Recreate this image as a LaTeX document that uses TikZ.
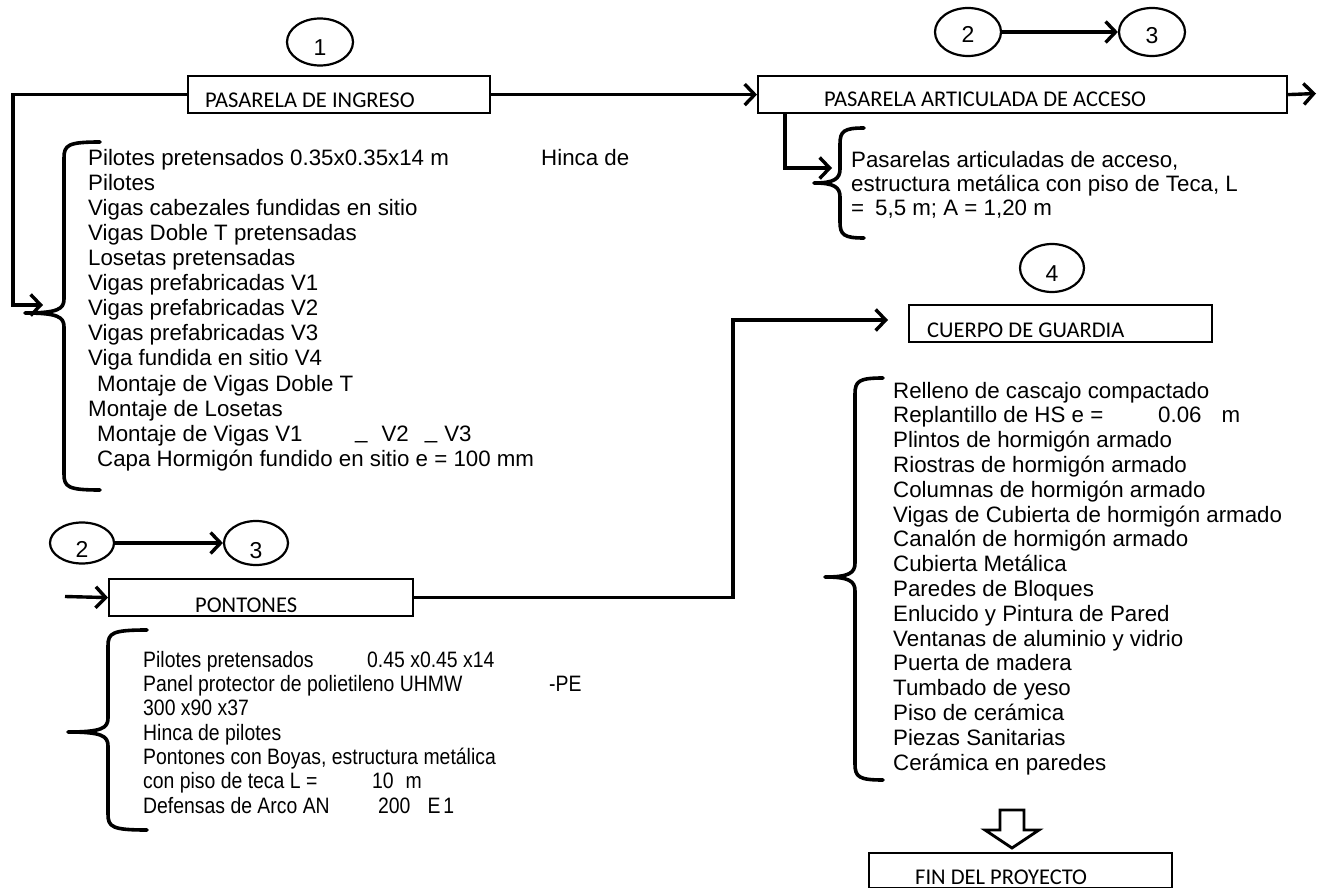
\documentclass[tikz,border=0pt]{standalone}
\usepackage{fontspec}
\setmainfont{Liberation Sans}
\newfontfamily\boxfont{Carlito}
\newfontfamily\narrowfont[FakeStretch=0.87]{Liberation Sans}
\usetikzlibrary{arrows.meta,shapes.geometric}
\newcommand\tightls{\lineskiplimit-30pt\relax}
\newcommand\fontA{\fontsize{22.3}{25.1}\selectfont\tightls}
\newcommand\fontB{\fontsize{22.3}{24}\selectfont\tightls}
\newcommand\fontC{\fontsize{22.3}{24.8}\selectfont\tightls}
\newcommand\fontD{\narrowfont\fontsize{22.3}{24.3}\selectfont\tightls}
\tikzset{
  conn/.style={line width=3.4pt},
  arr/.style={conn,-{Straight Barb[length=10pt,width=21pt]}},
  stepbox/.style={draw,line width=2.2pt,inner sep=0pt,anchor=north west},
  boxlbl/.style={inner sep=0pt,anchor=base west,font=\boxfont\fontsize{22.5}{27}\selectfont},
  num/.style={draw,ellipse,line width=2.2pt,inner sep=0pt,text depth=0pt,font=\fontsize{23}{23}\selectfont},
  lst/.style={inner sep=0pt,anchor=north west,align=left},
  bracel/.style={line width=3.6pt,line join=round,line cap=round},
  hollow/.style={line width=2.8pt,fill=white,line join=miter}
}
\newcommand\curlyb[6]{% #1 vertical x, #2 top, #3 tip y, #4 bottom, #5 tip x, #6 end x
  \draw[bracel] (#6,#2) .. controls ({#1+4},#2) and (#1,{#2+3}) .. (#1,{#2+16})
    -- (#1,{#3-14}) .. controls (#1,{#3-4}) and ({#1-6},#3) .. (#5,#3)
    .. controls ({#1-6},#3) and (#1,{#3+4}) .. (#1,{#3+14})
    -- (#1,{#4-16}) .. controls (#1,{#4-3}) and ({#1+4},#4) .. (#6,#4);}
\begin{document}
\begin{tikzpicture}[x=1pt,y=-1pt]
\useasboundingbox (0,0) rectangle (1318,888);
\fill[white] (0,0) rectangle (1318,888);

% numbered ellipses
\node[num,minimum width=66pt,minimum height=47pt,text height=26.6pt] (c1) at (320,42) {1};
\node[num,minimum width=66pt,minimum height=48pt,text height=20.6pt] (c2a) at (968,32) {2};
\node[num,minimum width=66pt,minimum height=48pt,text height=22.6pt] (c3a) at (1152,32) {3};
\node[num,minimum width=64pt,minimum height=48pt,text height=26.6pt] (c4) at (1052,268) {4};
\node[num,minimum width=64pt,minimum height=41pt,text height=28.6pt] (c2b) at (82,543) {2};
\node[num,minimum width=64pt,minimum height=44pt,text height=30.6pt] (c3b) at (256,543) {3};

% boxes
\node[stepbox,minimum width=302pt,minimum height=37pt] (b1) at (187,75) {};
\node[boxlbl] (b1t) at (205,108) {PASARELA DE INGRESO};
\node[stepbox,minimum width=529pt,minimum height=37pt] (b2) at (757,75) {};
\node[boxlbl] (b2t) at (824,107) {PASARELA ARTICULADA DE ACCESO};
\node[stepbox,minimum width=303pt,minimum height=37pt] (b3) at (908,304) {};
\node[boxlbl] (b3t) at (927,337) {CUERPO DE GUARDIA};
\node[stepbox,minimum width=304pt,minimum height=37pt] (b4) at (108,578) {};
\node[boxlbl] (b4t) at (195,612) {PONTONES};
\node[stepbox,minimum width=303pt,minimum height=35pt] (b5) at (868,852) {};
\node[boxlbl] (b5t) at (915,884.5) {FIN DEL PROYECTO};

% text lists
\node[lst,font=\fontA] (t1) at (88,147.4) {%
\strut\makebox[453pt][l]{Pilotes pretensados 0.35x0.35x14 m}Hinca de\\
Pilotes\\
Vigas cabezales fundidas en sitio\\
Vigas Doble T pretensadas\\
Losetas pretensadas\\
Vigas prefabricadas V1\\
Vigas prefabricadas V2\\
Vigas prefabricadas V3\\
Viga fundida en sitio V4\\
\hspace{9pt}Montaje de Vigas Doble T\\
Montaje de Losetas\\
\makebox[267pt][l]{\hspace{9pt}Montaje de Vigas V1}\raisebox{3pt}{\_}\hspace{14pt}V2\hspace{16pt}\raisebox{3pt}{\_}\hspace{7pt}V3\\
\hspace{9pt}Capa Hormigón fundido en sitio e = 100 mm};

\node[lst,font=\fontB] (t2) at (851,150.2) {%
\strut Pasarelas articuladas de acceso,\\
estructura metálica con piso de Teca, L\\
=\hspace{11pt}5,5 m; A = 1,20 m};

\node[lst,font=\fontC] (t3) at (893,380.6) {%
\strut Relleno de cascajo compactado\\
\makebox[265pt][l]{Replantillo de HS e =}0.06\hspace{20pt}m\\
Plintos de hormigón armado\\
Riostras de hormigón armado\\
Columnas de hormigón armado\\
Vigas de Cubierta de hormigón armado\\
Canalón de hormigón armado\\
Cubierta Metálica\\
Paredes de Bloques\\
Enlucido y Pintura de Pared\\
Ventanas de aluminio y vidrio\\
Puerta de madera\\
Tumbado de yeso\\
Piso de cerámica\\
Piezas Sanitarias\\
Cerámica en paredes};

\node[lst,font=\fontD] (t4) at (143,650) {%
\strut\makebox[224pt][l]{Pilotes pretensados}0.45 x0.45 x14\\
\makebox[406pt][l]{Panel protector de polietileno UHMW}-PE\\
300 x90 x37\\
Hinca de pilotes\\
Pontones con Boyas, estructura metálica\\
\makebox[229pt][l]{con piso de teca L =}10\hspace{12pt}m\\
\makebox[235pt][l]{Defensas de Arco AN}200\hspace{17pt}E\hspace{3pt}1};

% braces
\curlyb{64}{142}{313}{490}{25}{100}
\curlyb{840}{128}{183}{238}{814}{864}
\curlyb{855}{378}{577}{780}{825}{883}
\curlyb{108}{630}{732}{830}{68}{147}

% connectors
\coordinate (b1turn) at (13,305);
\coordinate (br1in) at (43,305);
\draw[arr] (b1.west) -| (b1turn) -- (br1in);
\draw[arr] (b1.east) -- (b2.west);
\coordinate (b2out) at (1316,93.5);
\draw[arr] (b2.east) -- (b2out);
\coordinate (b2drop) at (785,0);
\coordinate (br2in) at (832,168);
\draw[arr] (b2.south -| b2drop) |- (br2in);
\draw[arr] (c2a) -- (c3a);
\draw[arr] (c2b) -- (c3b);
\coordinate (pin) at (65,596.5);
\draw[arr] (pin) -- (b4.west);
\coordinate (up) at (733,320);
\coordinate (b3in) at (888,320);
\draw[arr] (b4.east) -| (up) -- (b3in);

% hollow block arrow to the end box
\draw[hollow] (1000,810) -- (1024,810) -- (1024,830) -- (1039,830) -- (1012,848) -- (985,830) -- (1000,830) -- cycle;
\end{tikzpicture}
\end{document}
